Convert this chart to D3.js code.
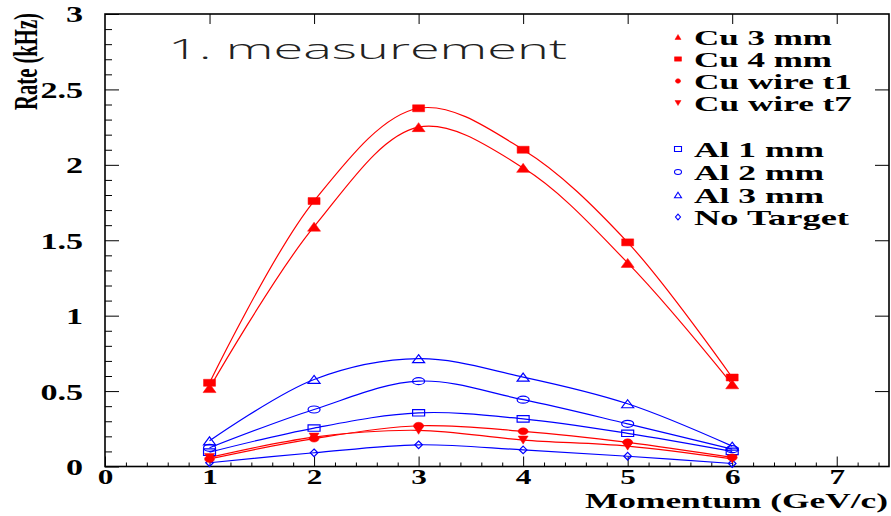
<!DOCTYPE html>
<html>
<head>
<meta charset="utf-8">
<script src="https://cdn.jsdelivr.net/npm/d3@7"></script>
<style>
  html, body { margin: 0; padding: 0; background: #fff; }
  svg { display: block; }
</style>
</head>
<body>
<svg id="chart" width="891" height="516"></svg>
<script>
// ---------------- data ----------------
const momentum = [1, 2, 3, 4, 5, 6];
const cu3mm   = [0.52, 1.59, 2.25, 1.98, 1.35, 0.545];
const cu4mm   = [0.555, 1.76, 2.375, 2.10, 1.486, 0.59];
const cuWireT1 = [0.05, 0.185, 0.27, 0.233, 0.16, 0.06];
const cuWireT7 = [0.06, 0.195, 0.24, 0.175, 0.135, 0.05];
const al1mm   = [0.095, 0.255, 0.356, 0.316, 0.22, 0.10];
const al2mm   = [0.124, 0.378, 0.566, 0.443, 0.283, 0.115];
const al3mm   = [0.17, 0.577, 0.715, 0.593, 0.416, 0.135];
const noTarget = [0.025, 0.091, 0.144, 0.11, 0.068, 0.02];

const xTickValues = [0, 1, 2, 3, 4, 5, 6, 7];
const xTickLabels = ["0", "1", "2", "3", "4", "5", "6", "7"];
const yTickValues = [0, 0.5, 1, 1.5, 2, 2.5, 3];
const yTickLabels = ["0", "0.5", "1", "1.5", "2", "2.5", "3"];

const seriesNames = ["Cu 3 mm", "Cu 4 mm", "Cu wire t1", "Cu wire t7", "Al 1 mm", "Al 2 mm", "Al 3 mm", "No Target"];
const titleText = "1. measurement";
const xTitle = "Momentum (GeV/c)";
const yTitle = "Rate (kHz)";

// ---------------- setup ----------------
const svg = d3.select("#chart");
const L = 105, R = 889, T = 14, B = 466.5;
const x = d3.scaleLinear().domain([0, 7.5]).range([L, R]);
const y = d3.scaleLinear().domain([0, 3]).range([B, T]);

const RED = "#ff0000", BLUE = "#0000ff";
const SERIF = "'Liberation Serif', 'Times New Roman', serif";
const TXS = 1.42; // horizontal text stretch

// custom symbol shapes (half-width, half-height)
function triUp(hw, hh) { return { draw(c) { c.moveTo(0, -hh); c.lineTo(hw, hh); c.lineTo(-hw, hh); c.closePath(); } }; }
function triDown(hw, hh) { return { draw(c) { c.moveTo(0, hh); c.lineTo(hw, -hh); c.lineTo(-hw, -hh); c.closePath(); } }; }
function rect(hw, hh) { return { draw(c) { c.rect(-hw, -hh, 2 * hw, 2 * hh); } }; }
function ellipse(rx, ry) { return { draw(c) { const k = 0.5523; c.moveTo(rx, 0);
  c.bezierCurveTo(rx, ry * k, rx * k, ry, 0, ry); c.bezierCurveTo(-rx * k, ry, -rx, ry * k, -rx, 0);
  c.bezierCurveTo(-rx, -ry * k, -rx * k, -ry, 0, -ry); c.bezierCurveTo(rx * k, -ry, rx, -ry * k, rx, 0); c.closePath(); } }; }
function diamond(hw, hh) { return { draw(c) { c.moveTo(0, -hh); c.lineTo(hw, 0); c.lineTo(0, hh); c.lineTo(-hw, 0); c.closePath(); } }; }

const series = [
  { name: seriesNames[0], values: cu3mm,   color: RED,  filled: true,  sym: triUp(6.5, 4.5),  leg: triUp(3, 2.5) },
  { name: seriesNames[1], values: cu4mm,   color: RED,  filled: true,  sym: rect(6, 3.5),     leg: rect(3.5, 2.2) },
  { name: seriesNames[2], values: cuWireT1, color: RED, filled: true,  sym: ellipse(5, 3.5),  leg: ellipse(2.6, 2.3) },
  { name: seriesNames[3], values: cuWireT7, color: RED, filled: true,  sym: triDown(5, 4),    leg: triDown(3, 2.5) },
  { name: seriesNames[4], values: al1mm,   color: BLUE, filled: false, sym: rect(6, 3.2),     leg: rect(3.5, 2.5) },
  { name: seriesNames[5], values: al2mm,   color: BLUE, filled: false, sym: ellipse(6, 3.5),  leg: ellipse(3.5, 2.5) },
  { name: seriesNames[6], values: al3mm,   color: BLUE, filled: false, sym: triUp(6, 4),      leg: triUp(3.5, 2.8) },
  { name: seriesNames[7], values: noTarget, color: BLUE, filled: false, sym: diamond(3.8, 3.8), leg: diamond(2.5, 2.8) }
];

// ---------------- axes ----------------
const xMinor = d3.range(0, 7.5001, 0.2).filter(v => Math.abs(v - Math.round(v)) > 1e-6);
const yMinor = d3.range(0, 3.0001, 0.1).filter(v => Math.abs(v * 2 - Math.round(v * 2)) > 1e-6);

// minor bottom ticks
svg.append("g").attr("transform", `translate(0,${B})`)
  .call(d3.axisBottom(x).tickValues(xMinor).tickSize(-4).tickFormat(""))
  .call(g => g.select(".domain").remove());
// major bottom ticks with labels
const gx = svg.append("g").attr("transform", `translate(0,${B})`)
  .call(d3.axisBottom(x).tickValues(xTickValues).tickSizeInner(-10).tickSizeOuter(0).tickPadding(3)
    .tickFormat((d, i) => xTickLabels[i]));
gx.select(".domain").remove();
gx.selectAll("text").attr("font-family", SERIF).attr("font-weight", "bold").attr("font-size", 22)
  .attr("fill", "#000").attr("y", 17.5).attr("dy", 0).attr("transform", `scale(${TXS},1)`);
// top major ticks
svg.append("g").attr("transform", `translate(0,${T})`)
  .call(d3.axisTop(x).tickValues(xTickValues.filter(v => v > 0)).tickSize(-10).tickFormat(""))
  .call(g => g.select(".domain").remove());

// left minor ticks
svg.append("g").attr("transform", `translate(${L},0)`)
  .call(d3.axisLeft(y).tickValues(yMinor).tickSize(-7).tickFormat(""))
  .call(g => g.select(".domain").remove());
// left major ticks with labels
const gy = svg.append("g").attr("transform", `translate(${L},0)`)
  .call(d3.axisLeft(y).tickValues(yTickValues).tickSizeInner(-14).tickSizeOuter(0)
    .tickFormat((d, i) => yTickLabels[i]));
gy.select(".domain").remove();
gy.selectAll("text").attr("font-family", SERIF).attr("font-weight", "bold").attr("font-size", 24)
  .attr("fill", "#000").attr("x", -22 / TXS).attr("dy", "0.33em").attr("transform", `scale(${TXS},1)`);
// right major ticks
svg.append("g").attr("transform", `translate(${R},0)`)
  .call(d3.axisRight(y).tickValues(yTickValues.filter(v => v > 0 && v < 3)).tickSize(-14).tickFormat(""))
  .call(g => g.select(".domain").remove());

svg.selectAll(".tick line").attr("stroke", "#000").attr("stroke-width", 1);

// frame
svg.append("rect").attr("x", L).attr("y", T).attr("width", R - L).attr("height", B - T)
  .attr("fill", "none").attr("stroke", "#000").attr("stroke-width", 1.6);

// ---------------- curves ----------------
const line = d3.line().x((d, i) => x(momentum[i])).y(d => y(d)).curve(d3.curveCatmullRom.alpha(0.5));
const order = [4, 5, 6, 7, 0, 1, 2, 3];
order.forEach(k => {
  const s = series[k];
  svg.append("path").attr("d", line(s.values)).attr("fill", "none")
    .attr("stroke", s.color).attr("stroke-width", 1.2);
});
order.forEach(k => {
  const s = series[k];
  const sym = d3.symbol().type(s.sym).size(1);
  svg.append("g").selectAll("path").data(s.values).join("path")
    .attr("d", sym)
    .attr("transform", (d, i) => `translate(${x(momentum[i])},${y(d)})`)
    .attr("fill", s.filled ? s.color : "none")
    .attr("stroke", s.color).attr("stroke-width", s.filled ? 0.5 : 1.2);
});

// ---------------- legend ----------------
const legBase = [45, 67, 89, 111, 157, 180, 203, 225];
const legWidth = [138, 138, 158, 158, 130, 130, 130, 155];
const legG = svg.append("g");
series.forEach((s, i) => {
  legG.append("path").attr("d", d3.symbol().type(s.leg).size(1)())
    .attr("transform", `translate(678,${legBase[i] - 8})`)
    .attr("fill", s.filled ? s.color : "none").attr("stroke", s.color)
    .attr("stroke-width", s.filled ? 0.5 : 1.1);
  legG.append("text").attr("x", 694).attr("y", legBase[i]).text(s.name)
    .attr("font-family", SERIF).attr("font-weight", "bold").attr("font-size", 21)
    .attr("textLength", legWidth[i]).attr("lengthAdjust", "spacingAndGlyphs").attr("fill", "#000");
});

// ---------------- titles ----------------
svg.append("text").attr("x", 168).attr("y", 59).text(titleText)
  .attr("font-family", "'Open Sans', 'DejaVu Sans', sans-serif").attr("font-weight", 300)
  .attr("font-size", 27).attr("textLength", 399).attr("lengthAdjust", "spacingAndGlyphs")
  .attr("fill", "#222");

svg.append("text").attr("x", 585).attr("y", 508).text(xTitle)
  .attr("font-family", SERIF).attr("font-weight", "bold").attr("font-size", 21)
  .attr("textLength", 303).attr("lengthAdjust", "spacingAndGlyphs").attr("fill", "#000");

svg.append("text").attr("transform", "translate(37,110) scale(1.6,1) rotate(-90)").text(yTitle)
  .attr("font-family", SERIF).attr("font-weight", "bold").attr("font-size", 21)
  .attr("textLength", 97).attr("lengthAdjust", "spacingAndGlyphs").attr("fill", "#000");
</script>
</body>
</html>
